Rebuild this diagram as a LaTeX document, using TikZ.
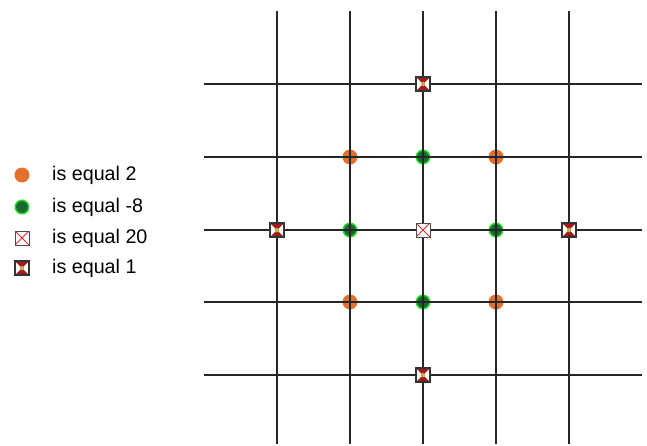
\documentclass[tikz,border=0pt]{standalone}
\usepackage{fontspec}
\setmainfont{Liberation Sans}
\definecolor{morange}{RGB}{226,112,46}
\definecolor{mgreen}{RGB}{24,104,52}
\definecolor{mlime}{RGB}{40,215,40}
\definecolor{xred}{RGB}{232,40,40}
\definecolor{hgred}{RGB}{160,26,26}
\definecolor{hgyel}{RGB}{205,175,70}
\begin{document}
\begin{tikzpicture}[x=1pt,y=-1pt,
  gridline/.style={draw=black!85, line width=1.1pt},
  orangedot/.style={circle, fill=morange, inner sep=0pt, minimum size=15pt},
  greendot/.style={circle, fill=mgreen, draw=mlime, line width=1.5pt, inner sep=0pt, minimum size=13.5pt},
  xbox/.style={rectangle, draw=black!70, fill=white, line width=1pt, inner sep=0pt, minimum size=14pt,
    path picture={\draw[xred, line width=0.8pt]
      (path picture bounding box.north west) -- (path picture bounding box.south east)
      (path picture bounding box.north east) -- (path picture bounding box.south west);}},
  hgbox/.style={rectangle, draw=black!80, fill=white, line width=1.1pt, inner sep=0pt, minimum size=14pt,
    path picture={
      \fill[hgred] (path picture bounding box.north west) -- (path picture bounding box.north east) -- (path picture bounding box.center) -- cycle;
      \fill[hgred] (path picture bounding box.south west) -- (path picture bounding box.south east) -- (path picture bounding box.center) -- cycle;
      \fill[hgyel] ([xshift=-2.5pt]path picture bounding box.center) -- ([yshift=2.5pt]path picture bounding box.center) -- ([xshift=2.5pt]path picture bounding box.center) -- ([yshift=-2.5pt]path picture bounding box.center) -- cycle;}},
  legtext/.style={anchor=base west, inner sep=0pt, font=\fontsize{19.7}{22}\selectfont}
]
\useasboundingbox (0,0) rectangle (647,445);
% circles (below grid)
\node[orangedot] (o1) at (350,157) {};
\node[orangedot] (o2) at (496,157) {};
\node[orangedot] (o3) at (350,302) {};
\node[orangedot] (o4) at (496,302) {};
\node[greendot] (g1) at (423,157) {};
\node[greendot] (g2) at (350,230) {};
\node[greendot] (g3) at (496,230) {};
\node[greendot] (g4) at (423,302) {};
% grid
\foreach \x in {277,350,423,496,569} \draw[gridline] (\x,11) -- (\x,444);
\foreach \y in {84,157,230,302,375} \draw[gridline] (204,\y) -- (642,\y);
% boxes
\node[xbox] (xc) at (423,230) {};
\node[hgbox] (h1) at (423,84) {};
\node[hgbox] (h2) at (277,230) {};
\node[hgbox] (h3) at (569,230) {};
\node[hgbox] (h4) at (423,375) {};
% legend
\node[orangedot] (lo) at (22,175) {};
\node[greendot] (lg) at (22,207) {};
\node[xbox] (lx) at (22,238) {};
\node[hgbox] (lh) at (22,268) {};
\node[legtext] (t1) at (52,180) {is equal 2};
\node[legtext] (t2) at (52,212) {is equal -8};
\node[legtext] (t3) at (52,243) {is equal 20};
\node[legtext] (t4) at (52,273) {is equal 1};
\end{tikzpicture}
\end{document}
